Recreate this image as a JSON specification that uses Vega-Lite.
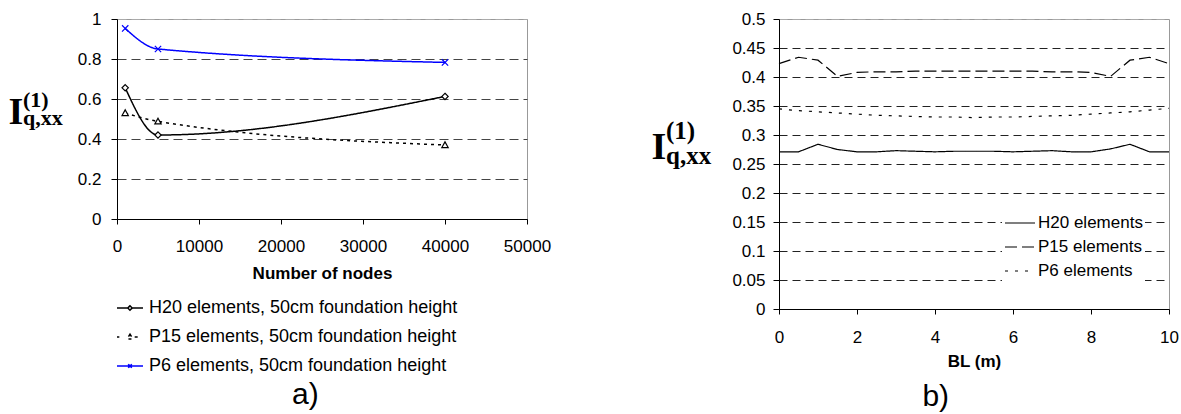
{
  "$schema": "https://vega.github.io/schema/vega-lite/v6.json",
  "padding": {"left": 7, "top": 9, "right": 0, "bottom": 0},
  "spacing": 98,
  "background": "white",
  "resolve": {"scale": {"color": "independent", "strokeDash": "independent"}, "legend": {"color": "independent", "strokeDash": "independent"}},
  "hconcat": [
    {
      "title": {"text": "a)", "orient": "bottom", "anchor": "middle", "font": "Liberation Sans", "fontSize": 30, "fontWeight": "normal", "color": "black", "offset": 5, "dx": 26},
      "vconcat": [
        {
          "width": 410,
          "height": 200,
          "title": {"text": ["(1)", "q,xx"], "orient": "top", "anchor": "start", "frame": "group", "align": "left", "baseline": "alphabetic", "font": "Liberation Serif", "fontWeight": "bold", "fontSize": 22, "lineHeight": 18, "dx": -94, "dy": 141, "offset": 4, "color": "black"},
          "data": {"values": [
            {"series": "H20 elements, 50cm foundation height", "nodes": 1000, "value": 0.656},
            {"series": "H20 elements, 50cm foundation height", "nodes": 5000, "value": 0.42},
            {"series": "H20 elements, 50cm foundation height", "nodes": 40000, "value": 0.613},
            {"series": "P15 elements, 50cm foundation height", "nodes": 1000, "value": 0.53},
            {"series": "P15 elements, 50cm foundation height", "nodes": 5000, "value": 0.488},
            {"series": "P15 elements, 50cm foundation height", "nodes": 40000, "value": 0.37},
            {"series": "P6 elements, 50cm foundation height", "nodes": 1000, "value": 0.953},
            {"series": "P6 elements, 50cm foundation height", "nodes": 5000, "value": 0.85},
            {"series": "P6 elements, 50cm foundation height", "nodes": 40000, "value": 0.783}
          ]},
          "encoding": {
            "x": {"field": "nodes", "type": "quantitative", "scale": {"domain": [0, 50000], "nice": false, "zero": false},
                  "axis": {"values": [0, 10000, 20000, 30000, 40000, 50000], "format": "d", "title": "Number of nodes", "grid": false, "tickSize": 5, "labelPadding": 14, "titlePadding": 11, "labelFlush": false}},
            "y": {"field": "value", "type": "quantitative", "scale": {"domain": [0, 1], "nice": false},
                  "axis": {"values": [0, 0.2, 0.4, 0.6, 0.8, 1], "format": "~g", "title": "I", "titleAngle": 0, "titleAlign": "left", "titleBaseline": "alphabetic", "titleX": -109, "titleY": 104, "titleFont": "Liberation Serif", "titleFontSize": 38, "titleFontWeight": "bold",
                           "grid": true, "gridDash": [9, 5], "gridColor": {"condition": {"test": "datum.value == 1", "value": "#aaaaaa"}, "value": "#444444"}, "tickSize": 6, "labelPadding": 10}}
          },
          "layer": [
            {"mark": {"type": "line", "interpolate": "monotone", "strokeWidth": 1.5},
             "encoding": {
               "color": {"field": "series", "type": "nominal",
                         "scale": {"domain": ["H20 elements, 50cm foundation height", "P15 elements, 50cm foundation height", "P6 elements, 50cm foundation height"], "range": ["black", "black", "#0000ff"]},
                         "legend": {"orient": "none", "legendX": -1, "legendY": 275, "title": null, "direction": "vertical", "symbolType": "stroke", "symbolSize": 676, "symbolStrokeWidth": 1.5, "labelFontSize": 18, "labelLimit": 0, "labelOffset": 5, "rowPadding": 6, "padding": 0,
                                    "encode": {"symbols": {"update": {"shape": {"signal": "datum.value === 'H20 elements, 50cm foundation height' ? 'M-1,0H-0.17M0.17,0H1M0,-0.17L0.17,0L0,0.17L-0.17,0Z' : datum.value === 'P15 elements, 50cm foundation height' ? 'M-1,0H-0.82M0.36,0H0.72M0,-0.22L0.22,0.15L-0.22,0.15Z' : 'M-1,0H1M-0.14,-0.14L0.14,0.14M-0.14,0.14L0.14,-0.14'"}, "fill": {"value": "transparent"}}}}}},
               "strokeDash": {"field": "series", "type": "nominal", "scale": {"domain": ["H20 elements, 50cm foundation height", "P15 elements, 50cm foundation height", "P6 elements, 50cm foundation height"], "range": [[1, 0], [3, 4], [1, 0]]}, "legend": null}}},
            {"transform": [{"filter": "datum.series === 'H20 elements, 50cm foundation height'"}],
             "mark": {"type": "point", "shape": "M0,-1L1,0L0,1L-1,0Z", "filled": false, "fill": "white", "stroke": "black", "opacity": 1, "strokeWidth": 1.2, "size": 40}},
            {"transform": [{"filter": "datum.series === 'P15 elements, 50cm foundation height'"}],
             "mark": {"type": "point", "shape": "M0,-1L1,0.8L-1,0.8Z", "filled": false, "fill": "white", "stroke": "black", "opacity": 1, "strokeWidth": 1.2, "size": 40}},
            {"transform": [{"filter": "datum.series === 'P6 elements, 50cm foundation height'"}],
             "mark": {"type": "point", "shape": "M-1,-1L1,1M-1,1L1,-1", "filled": false, "stroke": "#0000ff", "opacity": 1, "strokeWidth": 1.2, "size": 40}}
          ]
        }
      ]
    },
    {
      "title": {"text": "b)", "orient": "bottom", "anchor": "middle", "font": "Liberation Sans", "fontSize": 30, "fontWeight": "normal", "color": "black", "offset": 12, "dx": 21},
      "vconcat": [
        {
          "width": 390,
          "height": 290,
          "title": {"text": ["(1)", "q,xx"], "orient": "top", "anchor": "start", "frame": "group", "align": "left", "baseline": "alphabetic", "font": "Liberation Serif", "fontWeight": "bold", "fontSize": 25, "lineHeight": 25, "dx": -113, "dy": 183, "offset": 4, "color": "black"},
          "data": {"values": [
            {"series": "H20 elements", "bl": 0, "value": 0.271}, {"series": "H20 elements", "bl": 0.5, "value": 0.271}, {"series": "H20 elements", "bl": 1, "value": 0.284}, {"series": "H20 elements", "bl": 1.5, "value": 0.275}, {"series": "H20 elements", "bl": 2, "value": 0.271}, {"series": "H20 elements", "bl": 2.5, "value": 0.271}, {"series": "H20 elements", "bl": 3, "value": 0.273}, {"series": "H20 elements", "bl": 3.5, "value": 0.272}, {"series": "H20 elements", "bl": 4, "value": 0.271}, {"series": "H20 elements", "bl": 4.5, "value": 0.272}, {"series": "H20 elements", "bl": 5, "value": 0.272}, {"series": "H20 elements", "bl": 5.5, "value": 0.272}, {"series": "H20 elements", "bl": 6, "value": 0.271}, {"series": "H20 elements", "bl": 6.5, "value": 0.272}, {"series": "H20 elements", "bl": 7, "value": 0.273}, {"series": "H20 elements", "bl": 7.5, "value": 0.271}, {"series": "H20 elements", "bl": 8, "value": 0.271}, {"series": "H20 elements", "bl": 8.5, "value": 0.276}, {"series": "H20 elements", "bl": 9, "value": 0.284}, {"series": "H20 elements", "bl": 9.5, "value": 0.271}, {"series": "H20 elements", "bl": 10, "value": 0.271},
            {"series": "P15 elements", "bl": 0, "value": 0.423}, {"series": "P15 elements", "bl": 0.5, "value": 0.434}, {"series": "P15 elements", "bl": 1, "value": 0.429}, {"series": "P15 elements", "bl": 1.5, "value": 0.401}, {"series": "P15 elements", "bl": 2, "value": 0.408}, {"series": "P15 elements", "bl": 2.5, "value": 0.409}, {"series": "P15 elements", "bl": 3, "value": 0.409}, {"series": "P15 elements", "bl": 3.5, "value": 0.41}, {"series": "P15 elements", "bl": 4, "value": 0.41}, {"series": "P15 elements", "bl": 4.5, "value": 0.41}, {"series": "P15 elements", "bl": 5, "value": 0.41}, {"series": "P15 elements", "bl": 5.5, "value": 0.41}, {"series": "P15 elements", "bl": 6, "value": 0.41}, {"series": "P15 elements", "bl": 6.5, "value": 0.41}, {"series": "P15 elements", "bl": 7, "value": 0.409}, {"series": "P15 elements", "bl": 7.5, "value": 0.409}, {"series": "P15 elements", "bl": 8, "value": 0.408}, {"series": "P15 elements", "bl": 8.5, "value": 0.401}, {"series": "P15 elements", "bl": 9, "value": 0.429}, {"series": "P15 elements", "bl": 9.5, "value": 0.434}, {"series": "P15 elements", "bl": 10, "value": 0.423},
            {"series": "P6 elements", "bl": 0, "value": 0.345}, {"series": "P6 elements", "bl": 0.5, "value": 0.342}, {"series": "P6 elements", "bl": 1, "value": 0.34}, {"series": "P6 elements", "bl": 1.5, "value": 0.338}, {"series": "P6 elements", "bl": 2, "value": 0.336}, {"series": "P6 elements", "bl": 2.5, "value": 0.334}, {"series": "P6 elements", "bl": 3, "value": 0.333}, {"series": "P6 elements", "bl": 3.5, "value": 0.332}, {"series": "P6 elements", "bl": 4, "value": 0.331}, {"series": "P6 elements", "bl": 4.5, "value": 0.331}, {"series": "P6 elements", "bl": 5, "value": 0.33}, {"series": "P6 elements", "bl": 5.5, "value": 0.331}, {"series": "P6 elements", "bl": 6, "value": 0.331}, {"series": "P6 elements", "bl": 6.5, "value": 0.332}, {"series": "P6 elements", "bl": 7, "value": 0.333}, {"series": "P6 elements", "bl": 7.5, "value": 0.334}, {"series": "P6 elements", "bl": 8, "value": 0.336}, {"series": "P6 elements", "bl": 8.5, "value": 0.338}, {"series": "P6 elements", "bl": 9, "value": 0.34}, {"series": "P6 elements", "bl": 9.5, "value": 0.343}, {"series": "P6 elements", "bl": 10, "value": 0.346}
          ]},
          "mark": {"type": "line", "color": "black", "strokeWidth": 1.2},
          "encoding": {
            "x": {"field": "bl", "type": "quantitative", "scale": {"domain": [0, 10], "nice": false},
                  "axis": {"values": [0, 2, 4, 6, 8, 10], "title": "BL (m)", "grid": false, "tickSize": 5, "labelPadding": 15, "titlePadding": 8, "labelFlush": false}},
            "y": {"field": "value", "type": "quantitative", "scale": {"domain": [0, 0.5], "nice": false},
                  "axis": {"values": [0, 0.05, 0.1, 0.15, 0.2, 0.25, 0.3, 0.35, 0.4, 0.45, 0.5], "format": "~g", "title": "I", "titleAngle": 0, "titleAlign": "left", "titleBaseline": "alphabetic", "titleX": -128, "titleY": 139, "titleFont": "Liberation Serif", "titleFontSize": 38, "titleFontWeight": "bold",
                           "grid": true, "gridDash": [8, 5], "gridColor": {"condition": {"test": "datum.value == 0.5", "value": "#aaaaaa"}, "value": "#222222"}, "tickSize": 6, "labelPadding": 8}},
            "strokeDash": {"field": "series", "type": "nominal",
                           "scale": {"domain": ["H20 elements", "P15 elements", "P6 elements"], "range": [[1, 0], [12, 5], [3, 7]]},
                           "legend": {"orient": "none", "legendX": 223, "legendY": 186, "title": null, "direction": "vertical", "symbolType": "stroke", "symbolSize": 900, "symbolStrokeWidth": 1.2, "symbolStrokeColor": "black", "labelFontSize": 17, "labelOffset": 2, "rowPadding": -9, "padding": 2, "fillColor": "white"}}
          }
        }
      ]
    }
  ],
  "config": {
    "font": "Liberation Sans",
    "view": {"stroke": "#999999", "strokeWidth": 1},
    "axis": {"labelFont": "Liberation Sans", "labelFontSize": 17, "labelColor": "black", "titleFont": "Liberation Sans", "titleFontSize": 17, "titleFontWeight": "bold", "titleColor": "black", "domainColor": "black", "tickColor": "black", "domainWidth": 1, "tickWidth": 1, "gridWidth": 1},
    "legend": {"labelFont": "Liberation Sans", "labelColor": "black"}
  }
}
